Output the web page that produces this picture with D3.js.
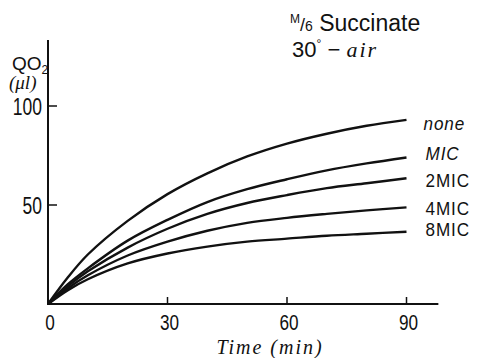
<!DOCTYPE html>
<html>
<head>
<meta charset="utf-8">
<script src="https://cdn.jsdelivr.net/npm/d3@7"></script>
<style>
  body { margin: 0; background: #fff; }
  svg { display: block; }
  text { fill: #111; }
</style>
</head>
<body>
<figure id="chart" style="margin:0"></figure>
<script>
// time in minutes
const times = [0, 5, 10, 20, 30, 40, 50, 60, 70, 80, 90];
const seriesNames = ["none", "MIC", "2MIC", "4MIC", "8MIC"];
const noneVals = [0, 13.5, 25, 42, 55.5, 66, 74.5, 81, 86, 90, 93];
const micVals  = [0, 10, 18, 32, 42.5, 51.5, 58, 63, 67.5, 71, 74];
const mic2Vals = [0, 9, 16.5, 28.5, 38, 45.5, 51, 55, 58.5, 61, 63.5];
const mic4Vals = [0, 8, 14.5, 24.5, 31.5, 37, 41, 43.5, 45.5, 47.3, 48.8];
const mic8Vals = [0, 7, 12.5, 20.5, 25.5, 29, 31.5, 33, 34.5, 35.5, 36.5];
const xTicks = [30, 60, 90];
const yTicks = [50, 100];

const width = 479, height = 358;
const svg = d3.select("#chart").append("svg")
  .attr("width", width).attr("height", height);

const x = d3.scaleLinear().domain([0, 90]).range([48, 406.5]);
const y = d3.scaleLinear().domain([0, 100]).range([304, 106]);

const sans = "'Liberation Sans', Arial, sans-serif";
const serif = "'Liberation Serif', serif";

// squeeze text horizontally to look like the narrow lettering of the original
function narrow(sel, f) {
  sel.each(function () {
    const len = this.getComputedTextLength();
    d3.select(this).attr("textLength", len * f).attr("lengthAdjust", "spacingAndGlyphs");
  });
}

// axes lines
svg.append("line")
  .attr("x1", x(0)).attr("x2", x(0))
  .attr("y1", 40).attr("y2", y(0) + 1)
  .attr("stroke", "#111").attr("stroke-width", 2);
svg.append("line")
  .attr("x1", x(0) - 1).attr("x2", x(98))
  .attr("y1", y(0)).attr("y2", y(0))
  .attr("stroke", "#111").attr("stroke-width", 2);

// ticks (inward)
svg.selectAll(".xt").data(xTicks).enter().append("line")
  .attr("x1", d => x(d)).attr("x2", d => x(d))
  .attr("y1", y(0)).attr("y2", y(0) - 7)
  .attr("stroke", "#111").attr("stroke-width", 1.5);
svg.selectAll(".yt").data(yTicks).enter().append("line")
  .attr("x1", x(0)).attr("x2", x(0) + 9)
  .attr("y1", d => y(d)).attr("y2", d => y(d))
  .attr("stroke", "#111").attr("stroke-width", 1.5);

// tick labels
svg.selectAll(".xl").data([0].concat(xTicks)).enter().append("text")
  .attr("x", d => x(d) + 2).attr("y", 330)
  .attr("text-anchor", "middle")
  .style("font-family", sans).style("font-size", "22px")
  .text(d => d)
  .call(narrow, 0.78);
svg.selectAll(".yl").data(yTicks).enter().append("text")
  .attr("x", 42).attr("y", d => y(d) + 9)
  .attr("text-anchor", "end")
  .style("font-family", sans).style("font-size", "23px")
  .text(d => d)
  .call(narrow, 0.76);

// y label
const yl = svg.append("text").attr("x", 12).attr("y", 70)
  .style("font-family", sans).style("font-size", "19px");
yl.append("tspan").text("QO");
yl.append("tspan").attr("dy", 4).style("font-size", "12px").text("2");
svg.append("text").attr("x", 9).attr("y", 89)
  .style("font-family", serif).style("font-style", "italic")
  .style("font-size", "19px").text("(μl)");

// x label
svg.append("text").attr("x", 270).attr("y", 354)
  .attr("text-anchor", "middle")
  .style("font-family", serif).style("font-style", "italic")
  .style("font-size", "20px").style("letter-spacing", "2px")
  .text("Time (min)");

// top-right note
const t1 = svg.append("text").attr("x", 290).attr("y", 31)
  .style("font-family", sans).style("font-size", "23px");
t1.append("tspan").attr("dy", -8).style("font-size", "12px").text("M");
t1.append("tspan").attr("dy", 8).style("font-size", "18px").text("/");
t1.append("tspan").style("font-size", "14px").text("6");
t1.append("tspan").text(" Succinate");
const t2 = svg.append("text").attr("x", 292).attr("y", 57)
  .style("font-family", sans).style("font-size", "22px");
t2.append("tspan").text("30");
t2.append("tspan").attr("dy", -9).style("font-size", "12px").text("°");
t2.append("tspan").attr("dy", 9).text(" − ");
t2.append("tspan").style("font-family", serif)
  .style("font-style", "italic").style("letter-spacing", "2px").text("air");

// curves
const allVals = [noneVals, micVals, mic2Vals, mic4Vals, mic8Vals];
const line = d3.line()
  .x((d, i) => x(times[i]))
  .y(d => y(d))
  .curve(d3.curveCatmullRom.alpha(0.5));

svg.selectAll(".curve").data(allVals).enter().append("path")
  .attr("d", d => line(d))
  .attr("fill", "none").attr("stroke", "#111")
  .attr("stroke-width", 2.4);

// end labels
const labelDy = [3, -4, 2, 1, -3];
svg.selectAll(".lab").data(seriesNames).enter().append("text")
  .attr("x", (d, i) => x(90) + (i === 0 ? 17 : 19))
  .attr("y", (d, i) => y(allVals[i][allVals[i].length - 1]) + labelDy[i] + 7)
  .style("font-family", sans).style("font-size", "19px")
  .style("font-style", (d, i) => i < 2 ? "italic" : "normal")
  .style("letter-spacing", "1px")
  .text(d => d)
  .call(narrow, 0.9);
</script>
</body>
</html>
